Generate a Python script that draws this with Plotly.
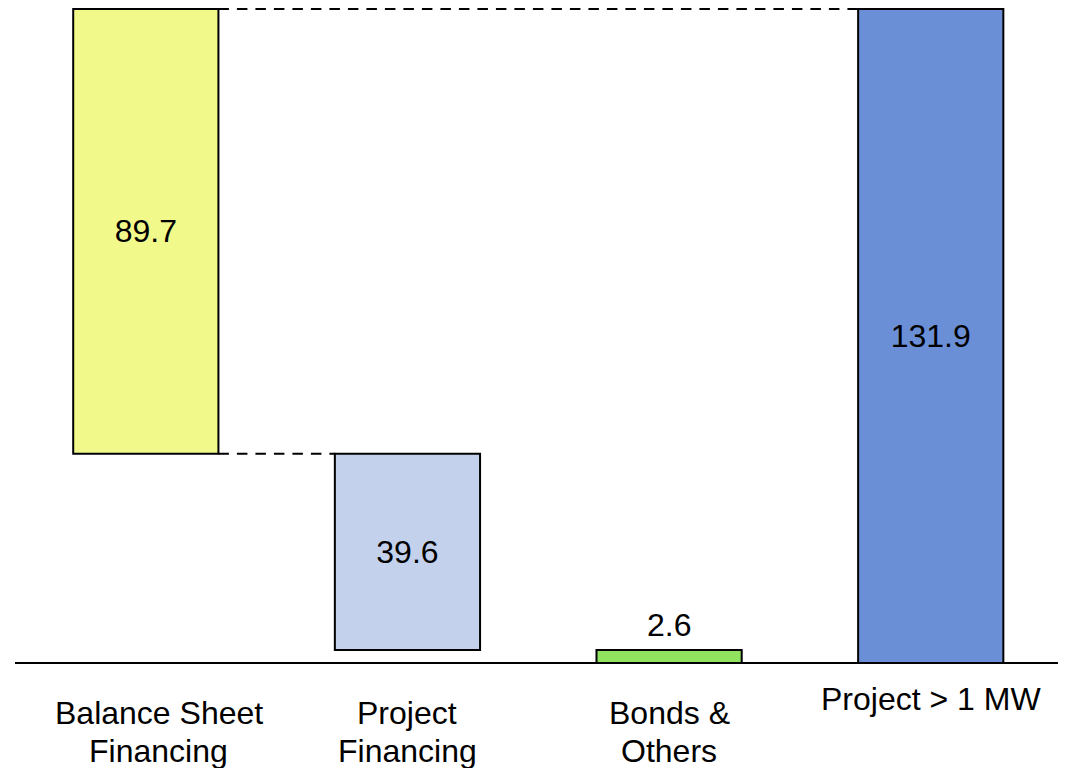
import plotly.graph_objects as go

categories = [["Balance Sheet", "Financing"], ["Project", "Financing"], ["Bonds &", "Others"], ["Project > 1 MW"]]
values = [89.7, 39.6, 2.6, 131.9]
bases = [42.2, 2.6, 0.0, 0.0]
colors = ["#F1F98A", "#C3D1EC", "#8FE35E", "#6A8FD6"]
value_labels = ["89.7", "39.6", "2.6", "131.9"]
text_positions = ["inside", "inside", "none", "inside"]

FONT = "Liberation Sans, Arial, sans-serif"
BAR_W = 0.555
LINE_H = 38
xs = list(range(len(categories)))

fig = go.Figure()
fig.add_trace(go.Bar(
    x=xs, y=values, base=bases, width=BAR_W,
    marker=dict(color=colors, line=dict(color="black", width=2)),
    text=value_labels, textposition=text_positions,
    insidetextanchor="middle",
    textfont=dict(family=FONT, size=32, color="black"),
    cliponaxis=False, showlegend=False, hoverinfo="skip",
))

# value label above the small bar
fig.add_annotation(x=xs[2], y=bases[2] + values[2], text=value_labels[2],
                   showarrow=False, yanchor="bottom", yshift=5,
                   font=dict(family=FONT, size=32, color="black"))

# connector lines
half = BAR_W / 2
top1 = bases[0] + values[0]
DASH = "10.5px,8px"
fig.add_shape(type="line", x0=xs[0] + half, x1=xs[3] - half, y0=top1, y1=top1,
              line=dict(color="black", width=2, dash=DASH), layer="below")
fig.add_shape(type="line", x0=xs[0] + half, x1=xs[1] - half, y0=bases[0], y1=bases[0],
              line=dict(color="black", width=2, dash=DASH), layer="below")

# baseline
fig.add_shape(type="line", xref="paper", x0=0, x1=1, y0=0, y1=0,
              line=dict(color="black", width=2), layer="below")

# category labels (one annotation per line)
shifts_x = [13, 0, 0, 0]
shifts_y = [-30, -30, -30, -16]
for i, lines in enumerate(categories):
    for k, line in enumerate(lines):
        fig.add_annotation(x=xs[i], y=0, text=line, showarrow=False, yanchor="top",
                           xshift=shifts_x[i], yshift=shifts_y[i] - LINE_H * k,
                           font=dict(family=FONT, size=32, color="black"))

fig.update_layout(
    width=1058, height=760,
    margin=dict(l=7, r=0, t=0, b=100),
    plot_bgcolor="white", paper_bgcolor="white",
    xaxis=dict(range=[-0.5, 3.517], visible=False, fixedrange=True),
    yaxis=dict(range=[-1.008, 132.1], visible=False, fixedrange=True),
    showlegend=False,
)

fig.write_html("out.html")
